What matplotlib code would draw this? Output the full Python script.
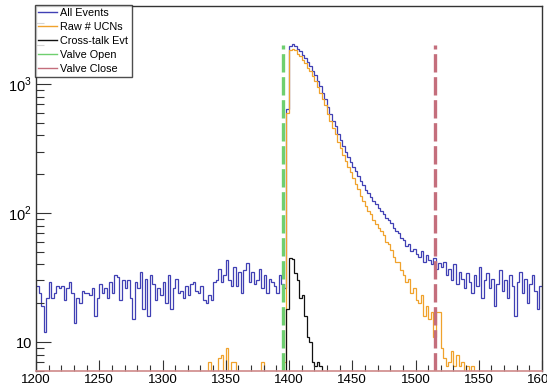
import numpy as np
import matplotlib
matplotlib.use("Agg")
import matplotlib.pyplot as plt
from matplotlib.ticker import FixedLocator, FixedFormatter, MultipleLocator
from matplotlib.lines import Line2D

plt.rcParams['font.family'] = ['Liberation Sans', 'DejaVu Sans']
plt.rcParams['mathtext.fontset'] = 'custom'
plt.rcParams['mathtext.rm'] = 'Liberation Sans'

# ---------------- data (2 s bins from 1200 to 1600) ----------------
bin_lo, bin_hi, bin_w = 1200, 1600, 2

all_events_pre = [27, 24, 19, 12, 22, 29, 22, 24, 27, 26, 27, 21, 26, 29, 24, 14, 22, 20, 25, 24,
                  24, 23, 26, 16, 22, 28, 24, 26, 22, 29, 24, 33, 32, 21, 30, 26, 30, 22, 15, 29,
                  26, 35, 18, 31, 16, 33, 28, 21, 26, 23, 29, 20, 33, 18, 26, 31, 24, 25, 22, 27,
                  23, 28, 29, 25, 24, 27, 21, 20, 23, 21, 29, 30, 37, 29, 33, 43, 30, 27, 38, 27,
                  35, 24, 36, 41, 29, 35, 28, 30, 37, 26, 33, 24, 31, 29, 27, 24, 33, 28, 26]
all_events_peak = [640, 1990, 2040, 1990, 1880, 1790, 1680, 1600, 1470, 1390, 1270, 1180, 1060, 960,
                   850, 770, 660, 590, 520, 470, 410, 370, 330, 300, 272, 250, 228, 210, 195, 176,
                   164, 152, 142, 134, 124, 118, 110, 104, 99, 92, 89, 83, 77, 73, 70, 64, 62, 56,
                   58, 51, 53, 48, 46, 51, 42, 47, 43, 40, 45, 37, 41]
all_events_tail = [38, 42, 33, 37, 30, 40, 28, 35, 31, 26, 34, 29, 24, 33, 27, 38, 22, 30, 34, 26,
                   31, 19, 28, 36, 25, 30, 22, 33, 27, 16, 29, 35, 24, 31, 20, 28, 33, 25, 18, 27]

raw_ucn_pre = {1336: 7, 1344: 7.5, 1346: 8, 1350: 9, 1354: 7, 1356: 7, 1378: 7, 1396: 7}
raw_ucn_peak = [600, 1840, 1880, 1830, 1720, 1640, 1540, 1460, 1340, 1260, 1150, 1065, 955, 860,
                760, 685, 585, 520, 455, 410, 355, 318, 282, 255, 228, 208, 186, 168, 153, 136,
                125, 114, 104, 98, 88, 82, 76, 72, 68, 60, 58, 52, 46, 42, 42, 36, 33, 29,
                31, 24, 26, 21, 20, 23, 16, 19, 15, 17, 11, 17, 17, 9, 7.5, 6.5, 7, 8.5,
                6.5, 8, 6.5, 7, 0, 6.5, 0, 6.5, 0]
crosstalk_peak = [18, 45, 44, 34, 30, 22, 23, 16, 11, 10, 7, 6.5, 7, 6.5]

peak_start = 1398
valve_open = 1395.3
valve_close = 1515.5
valve_line_top = 2000

x_ticks = [1200, 1250, 1300, 1350, 1400, 1450, 1500, 1550, 1600]
y_ticks = [10, 100, 1000]
y_tick_labels = ['10', '$10^2$', '$10^3$']
legend_labels = ['All Events', 'Raw # UCNs', 'Cross-talk Evt', 'Valve Open', 'Valve Close']

# ---------------- build histograms ----------------
edges = np.arange(bin_lo, bin_hi + bin_w, bin_w)
nb = len(edges) - 1
i0 = int((peak_start - bin_lo) / bin_w)

all_events = np.array(all_events_pre + all_events_peak + all_events_tail, dtype=float)
raw_ucn = np.zeros(nb)
for k, v in raw_ucn_pre.items():
    raw_ucn[int((k - bin_lo) / bin_w)] = v
raw_ucn[i0:i0 + len(raw_ucn_peak)] = raw_ucn_peak
crosstalk = np.zeros(nb)
crosstalk[i0:i0 + len(crosstalk_peak)] = crosstalk_peak

floor = 1e-2
def fl(a):
    return np.where(a > 0, a, floor)

c_blue = '#4040b4'
c_orange = '#f0a22c'
c_black = '#111111'
c_green = '#6fcf6f'
c_red = '#c46e7c'

fig = plt.figure(figsize=(5.47, 3.88), dpi=100)
ax = fig.add_axes([36 / 547, 1 - 371 / 388, (542 - 36) / 547, (371 - 6) / 388])
ax.set_yscale('log')

ax.stairs(fl(all_events), edges, baseline=None, color=c_blue, lw=0.9)
ax.stairs(fl(raw_ucn), edges, baseline=None, color=c_orange, lw=0.9)
ax.stairs(fl(crosstalk), edges, baseline=None, color=c_black, lw=0.9)

ymin, ymax = 5.96, 4030
ax.plot([valve_open, valve_open], [ymin, valve_line_top], color=c_green, lw=2.4,
        dashes=(5.5, 1.4))
ax.plot([valve_close, valve_close], [ymin, valve_line_top], color=c_red, lw=2.4,
        dashes=(5.5, 1.4))

ax.set_xlim(bin_lo, bin_hi)
ax.set_ylim(ymin, ymax)

ax.xaxis.set_major_locator(FixedLocator(x_ticks))
ax.xaxis.set_minor_locator(MultipleLocator(10))
ax.yaxis.set_major_locator(FixedLocator(y_ticks))
ax.yaxis.set_major_formatter(FixedFormatter(y_tick_labels))
minor_y = [m * d for d in (1, 10, 100, 1000) for m in range(2, 10)]
ax.yaxis.set_minor_locator(FixedLocator(minor_y))
ax.yaxis.set_minor_formatter(FixedFormatter([''] * len(minor_y)))

ax.tick_params(axis='x', which='major', direction='in', length=8, width=0.8, labelsize=9.6,
               pad=2, top=False, color='#333333')
ax.tick_params(axis='x', which='minor', direction='in', length=4, width=0.8, top=False,
               color='#333333')
ax.tick_params(axis='y', which='major', direction='in', length=11, width=0.8, labelsize=10.5,
               pad=3, right=False, color='#333333')
ax.tick_params(axis='y', which='minor', direction='in', length=5.5, width=0.8, right=False,
               color='#333333')

for s in ('left', 'top', 'right'):
    ax.spines[s].set_color('#333333')
    ax.spines[s].set_linewidth(1.0)
ax.spines['bottom'].set_color('#d08a8a')
ax.spines['bottom'].set_linewidth(1.2)

proxy = [Line2D([], [], color=c, lw=1.0) for c in (c_blue, c_orange, c_black, c_green, c_red)]
leg = fig.legend(proxy, legend_labels, loc='upper left',
                 bbox_to_anchor=(35 / 547, 1 - 5 / 388), bbox_transform=fig.transFigure,
                 fontsize=7.8, frameon=True, fancybox=False, borderaxespad=0,
                 handlelength=1.7, handletextpad=0.35, labelspacing=0.36, borderpad=0.3)
leg.get_frame().set_edgecolor('#222222')
leg.get_frame().set_linewidth(1.0)

fig.savefig('out.png', dpi=100)
